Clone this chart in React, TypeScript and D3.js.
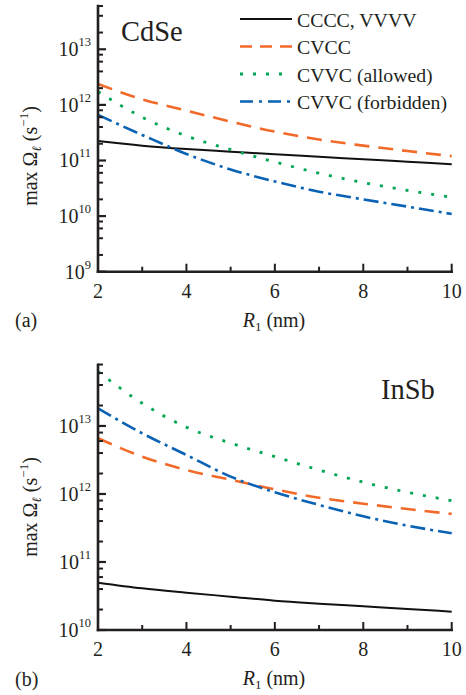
import React from "react";
import * as d3 from "d3";

const R = [2, 3, 4, 5, 6, 7, 8, 9, 10];
const xTicks = [2, 3, 4, 5, 6, 7, 8, 9, 10];

const cdseCCCC = [2.24e11, 1.85e11, 1.61e11, 1.44e11, 1.29e11, 1.17e11, 1.05e11, 9.5e10, 8.6e10];
const cdseCVCC = [2.38e12, 1.26e12, 7.9e11, 5.0e11, 3.3e11, 2.38e11, 1.85e11, 1.48e11, 1.2e11];
const cdseAllowed = [1.73e12, 6.0e11, 2.76e11, 1.57e11, 9.4e10, 5.9e10, 4.0e10, 2.9e10, 2.18e10];
const cdseForbidden = [6.6e11, 2.88e11, 1.31e11, 6.9e10, 4.2e10, 2.75e10, 2.0e10, 1.48e10, 1.09e10];

const insbCCCC = [4.96e10, 4.1e10, 3.54e10, 3.09e10, 2.7e10, 2.44e10, 2.23e10, 2.04e10, 1.86e10];
const insbCVCC = [6.6e12, 3.54e12, 2.25e12, 1.62e12, 1.17e12, 8.8e11, 7.2e11, 6.0e11, 5.1e11];
const insbAllowed = [6.3e13, 2.16e13, 9.6e12, 5.6e12, 3.54e12, 2.25e12, 1.49e12, 1.06e12, 7.98e11];
const insbForbidden = [1.82e13, 7.8e12, 3.75e12, 1.8e12, 1.06e12, 6.9e11, 4.7e11, 3.42e11, 2.64e11];

const seriesNames = ["CCCC, VVVV", "CVCC", "CVVC (allowed)", "CVVC (forbidden)"];
const seriesColors = ["#111111", "#f26a2a", "#00a651", "#0a62b4"];
const seriesDash = ["none", "15,9", "3,10", "15,5,3,5"];
const seriesWidth = [2, 2.6, 2.8, 2.6];

const FONT = "Liberation Serif, Times New Roman, serif";
const X0 = 98;
const X1 = 451.7;

type PanelProps = {
  top: number;
  bottom: number;
  yMin: number;
  yMaxExp: number;
  series: number[][];
  title: string;
  titleX: number;
  titleY: number;
  tag: string;
  tagY: number;
  labelCenter: number;
  legend: boolean;
};

function Panel(p: PanelProps) {
  const x = d3.scaleLinear().domain([2, 10]).range([X0, X1]);
  const y = d3.scaleLog().domain([p.yMin, Math.pow(10, p.yMaxExp)]).range([p.bottom, p.top]);
  const line = d3
    .line<number>()
    .x((_, i) => x(R[i]))
    .y((v) => y(v))
    .curve(d3.curveMonotoneX);

  const lo = Math.round(Math.log10(p.yMin));
  const hi = Math.floor(p.yMaxExp);
  const majors: number[] = [];
  const minors: number[] = [];
  for (let e = lo; e <= hi; e++) {
    majors.push(Math.pow(10, e));
    for (const m of [2, 4, 6, 8]) {
      const v = m * Math.pow(10, e);
      if (Math.log10(v) <= p.yMaxExp + 1e-9) minors.push(v);
    }
  }

  return (
    <g fontFamily={FONT} fill="#231f20">
      {p.series.map((s, i) => (
        <path
          key={i}
          d={line(s) || ""}
          fill="none"
          stroke={seriesColors[i]}
          strokeWidth={seriesWidth[i]}
          strokeDasharray={seriesDash[i]}
        />
      ))}
      <line x1={X0} x2={X0} y1={p.top} y2={p.bottom + 1.2} stroke="#231f20" strokeWidth={2.6} />
      <line x1={X0 - 1.3} x2={X1 + 1.3} y1={p.bottom} y2={p.bottom} stroke="#231f20" strokeWidth={2.6} />
      {majors.map((v) => (
        <line key={"M" + v} x1={X0} x2={X0 + 8} y1={y(v)} y2={y(v)} stroke="#231f20" strokeWidth={2.2} />
      ))}
      {minors.map((v) => (
        <line key={"m" + v} x1={X0} x2={X0 + 5} y1={y(v)} y2={y(v)} stroke="#231f20" strokeWidth={2} />
      ))}
      {xTicks.map((t) => (
        <line
          key={"x" + t}
          x1={x(t)}
          x2={x(t)}
          y1={p.bottom}
          y2={p.bottom - (t % 2 === 0 ? 8 : 5)}
          stroke="#231f20"
          strokeWidth={2}
        />
      ))}
      {majors.map((v) => (
        <text key={"L" + v} x={91} y={y(v) + 7} textAnchor="end" fontSize={20}>
          10
          <tspan dy={-10} fontSize={12.5}>
            {Math.round(Math.log10(v))}
          </tspan>
        </text>
      ))}
      {xTicks
        .filter((t) => t % 2 === 0)
        .map((t) => (
          <text key={"xl" + t} x={x(t)} y={p.bottom + 26} textAnchor="middle" fontSize={20}>
            {t}
          </text>
        ))}
      <text x={274} y={p.bottom + 55} textAnchor="middle" fontSize={20}>
        <tspan fontStyle="italic">R</tspan>
        <tspan fontSize={13} dy={4}>1</tspan>
        <tspan dy={-4}> (nm)</tspan>
      </text>
      <text x={15} y={p.tagY} fontSize={20}>
        {p.tag}
      </text>
      <text
        transform={`translate(37,${p.labelCenter}) rotate(-90)`}
        textAnchor="middle"
        fontSize={20}
      >
        max Ω<tspan fontSize={13} dy={4} fontStyle="italic">ℓ</tspan>
        <tspan dy={-4}> (s</tspan>
        <tspan fontSize={13} dy={-9}>−1</tspan>
        <tspan dy={9}>)</tspan>
      </text>
      <text x={p.titleX} y={p.titleY} fontSize={28.5}>
        {p.title}
      </text>
      {p.legend &&
        seriesNames.map((n, i) => {
          const ly = 19 + i * 27.5;
          return (
            <g key={n}>
              <line
                x1={240}
                x2={292}
                y1={ly}
                y2={ly}
                stroke={seriesColors[i]}
                strokeWidth={seriesWidth[i]}
                strokeDasharray={i === 1 ? "12,8" : i === 3 ? "13,6,3,6" : seriesDash[i]}
              />
              <text x={297} y={ly + 7.5} fontSize={19.8}>
                {n}
              </text>
            </g>
          );
        })}
    </g>
  );
}

export default function App() {
  return (
    <svg
      width={466}
      height={695}
      style={{ position: "absolute", left: 0, top: 0, background: "#fff" }}
    >
      <rect width={466} height={695} fill="#fff" />
      <Panel
        top={4.8}
        bottom={271.7}
        yMin={1e9}
        yMaxExp={13.8}
        series={[cdseCCCC, cdseCVCC, cdseAllowed, cdseForbidden]}
        title="CdSe"
        titleX={121}
        titleY={40.5}
        tag="(a)"
        tagY={327}
        labelCenter={156}
        legend={true}
      />
      <Panel
        top={363.4}
        bottom={630}
        yMin={1e10}
        yMaxExp={13.92}
        series={[insbCCCC, insbCVCC, insbAllowed, insbForbidden]}
        title="InSb"
        titleX={381}
        titleY={399}
        tag="(b)"
        tagY={686}
        labelCenter={507}
        legend={false}
      />
    </svg>
  );
}
